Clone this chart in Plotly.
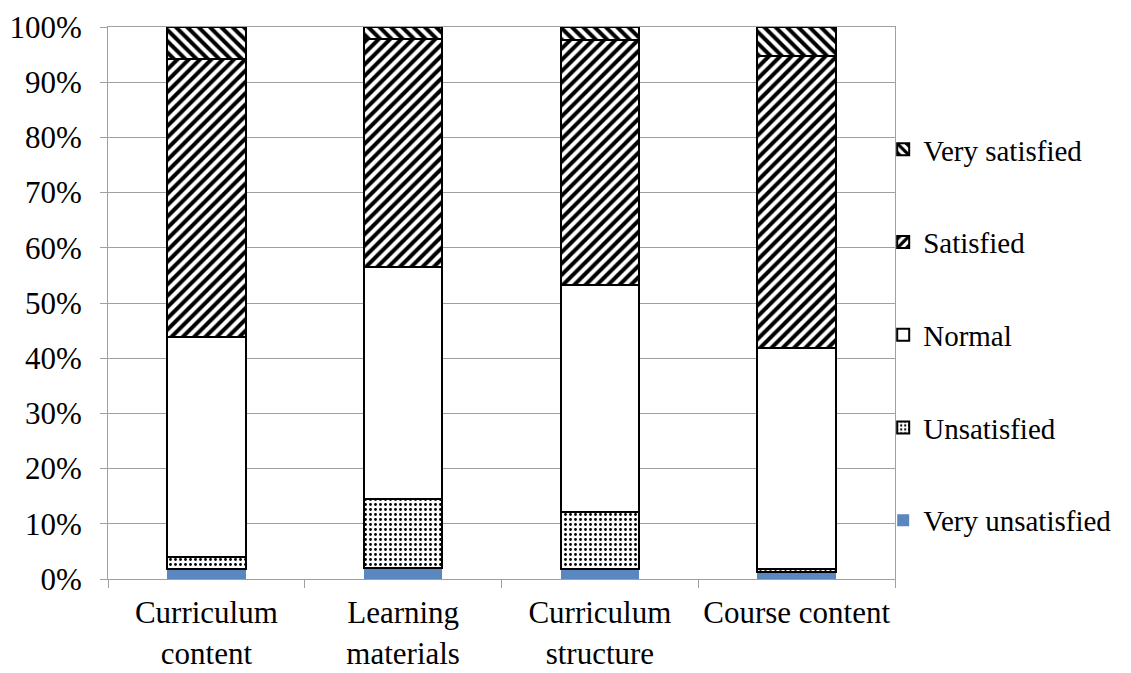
import plotly.graph_objects as go

categories = ["Curriculum<br>content", "Learning<br>materials", "Curriculum<br>structure", "Course content"]
series_names = ["Very unsatisfied", "Unsatisfied", "Normal", "Satisfied", "Very satisfied"]
very_unsatisfied = [1.8, 2.0, 1.8, 1.2]
unsatisfied = [2.2, 12.5, 10.4, 0.6]
normal = [39.8, 42.0, 41.0, 40.0]
satisfied = [50.4, 41.3, 44.4, 53.0]
very_satisfied = [5.8, 2.2, 2.4, 5.2]
y_ticks = [0, 10, 20, 30, 40, 50, 60, 70, 80, 90, 100]
y_tick_labels = [f"{v}%" for v in y_ticks]

values = [very_unsatisfied, unsatisfied, normal, satisfied, very_satisfied]
styles = [
    dict(color="#5B87C1", line=dict(width=0)),
    dict(color="white", line=dict(color="black", width=2),
         pattern=dict(shape=".", fgcolor="black", bgcolor="white", size=5, solidity=0.25)),
    dict(color="white", line=dict(color="black", width=2)),
    dict(color="white", line=dict(color="black", width=2),
         pattern=dict(shape="/", fgcolor="black", bgcolor="white", size=8, solidity=0.5)),
    dict(color="white", line=dict(color="black", width=2),
         pattern=dict(shape="\\", fgcolor="black", bgcolor="white", size=8, solidity=0.5)),
]
ranks = [5, 4, 3, 2, 1]

fig = go.Figure()
for name, vals, st, rk in zip(series_names, values, styles, ranks):
    fig.add_trace(go.Bar(x=categories, y=vals, name=name, marker=st, width=0.4,
                         legendgroup=name, legendrank=rk))

font_family = "Liberation Serif"
fig.update_layout(
    template="none",
    barmode="stack",
    width=1123, height=665,
    margin=dict(l=100, r=236, t=19, b=94),
    paper_bgcolor="white", plot_bgcolor="white",
    font=dict(family=font_family, size=29, color="black"),
    legend=dict(x=0.985, y=0.442, xanchor="left", yanchor="middle",
                traceorder="grouped", tracegroupgap=52,
                bgcolor="rgba(0,0,0,0)",
                font=dict(family=font_family, size=29), itemwidth=30),
    showlegend=True,
    xaxis=dict(showline=True, linecolor="#A0A0A0", linewidth=1, mirror=True,
               ticks="outside", tickson="boundaries", ticklen=8, tickcolor="#A0A0A0",
               ticklabelstandoff=6, tickangle=0,
               tickfont=dict(family=font_family, size=31), showgrid=False),
    yaxis=dict(range=[0, 100], tickvals=y_ticks, ticktext=y_tick_labels,
               showline=True, linecolor="#A0A0A0", linewidth=1, mirror=True,
               ticks="outside", ticklen=7, tickcolor="#A0A0A0",
               ticklabelstandoff=12,
               showgrid=True, gridcolor="#A0A0A0", gridwidth=1,
               tickfont=dict(family=font_family, size=31), zeroline=False),
)
fig.write_html("out.html")
